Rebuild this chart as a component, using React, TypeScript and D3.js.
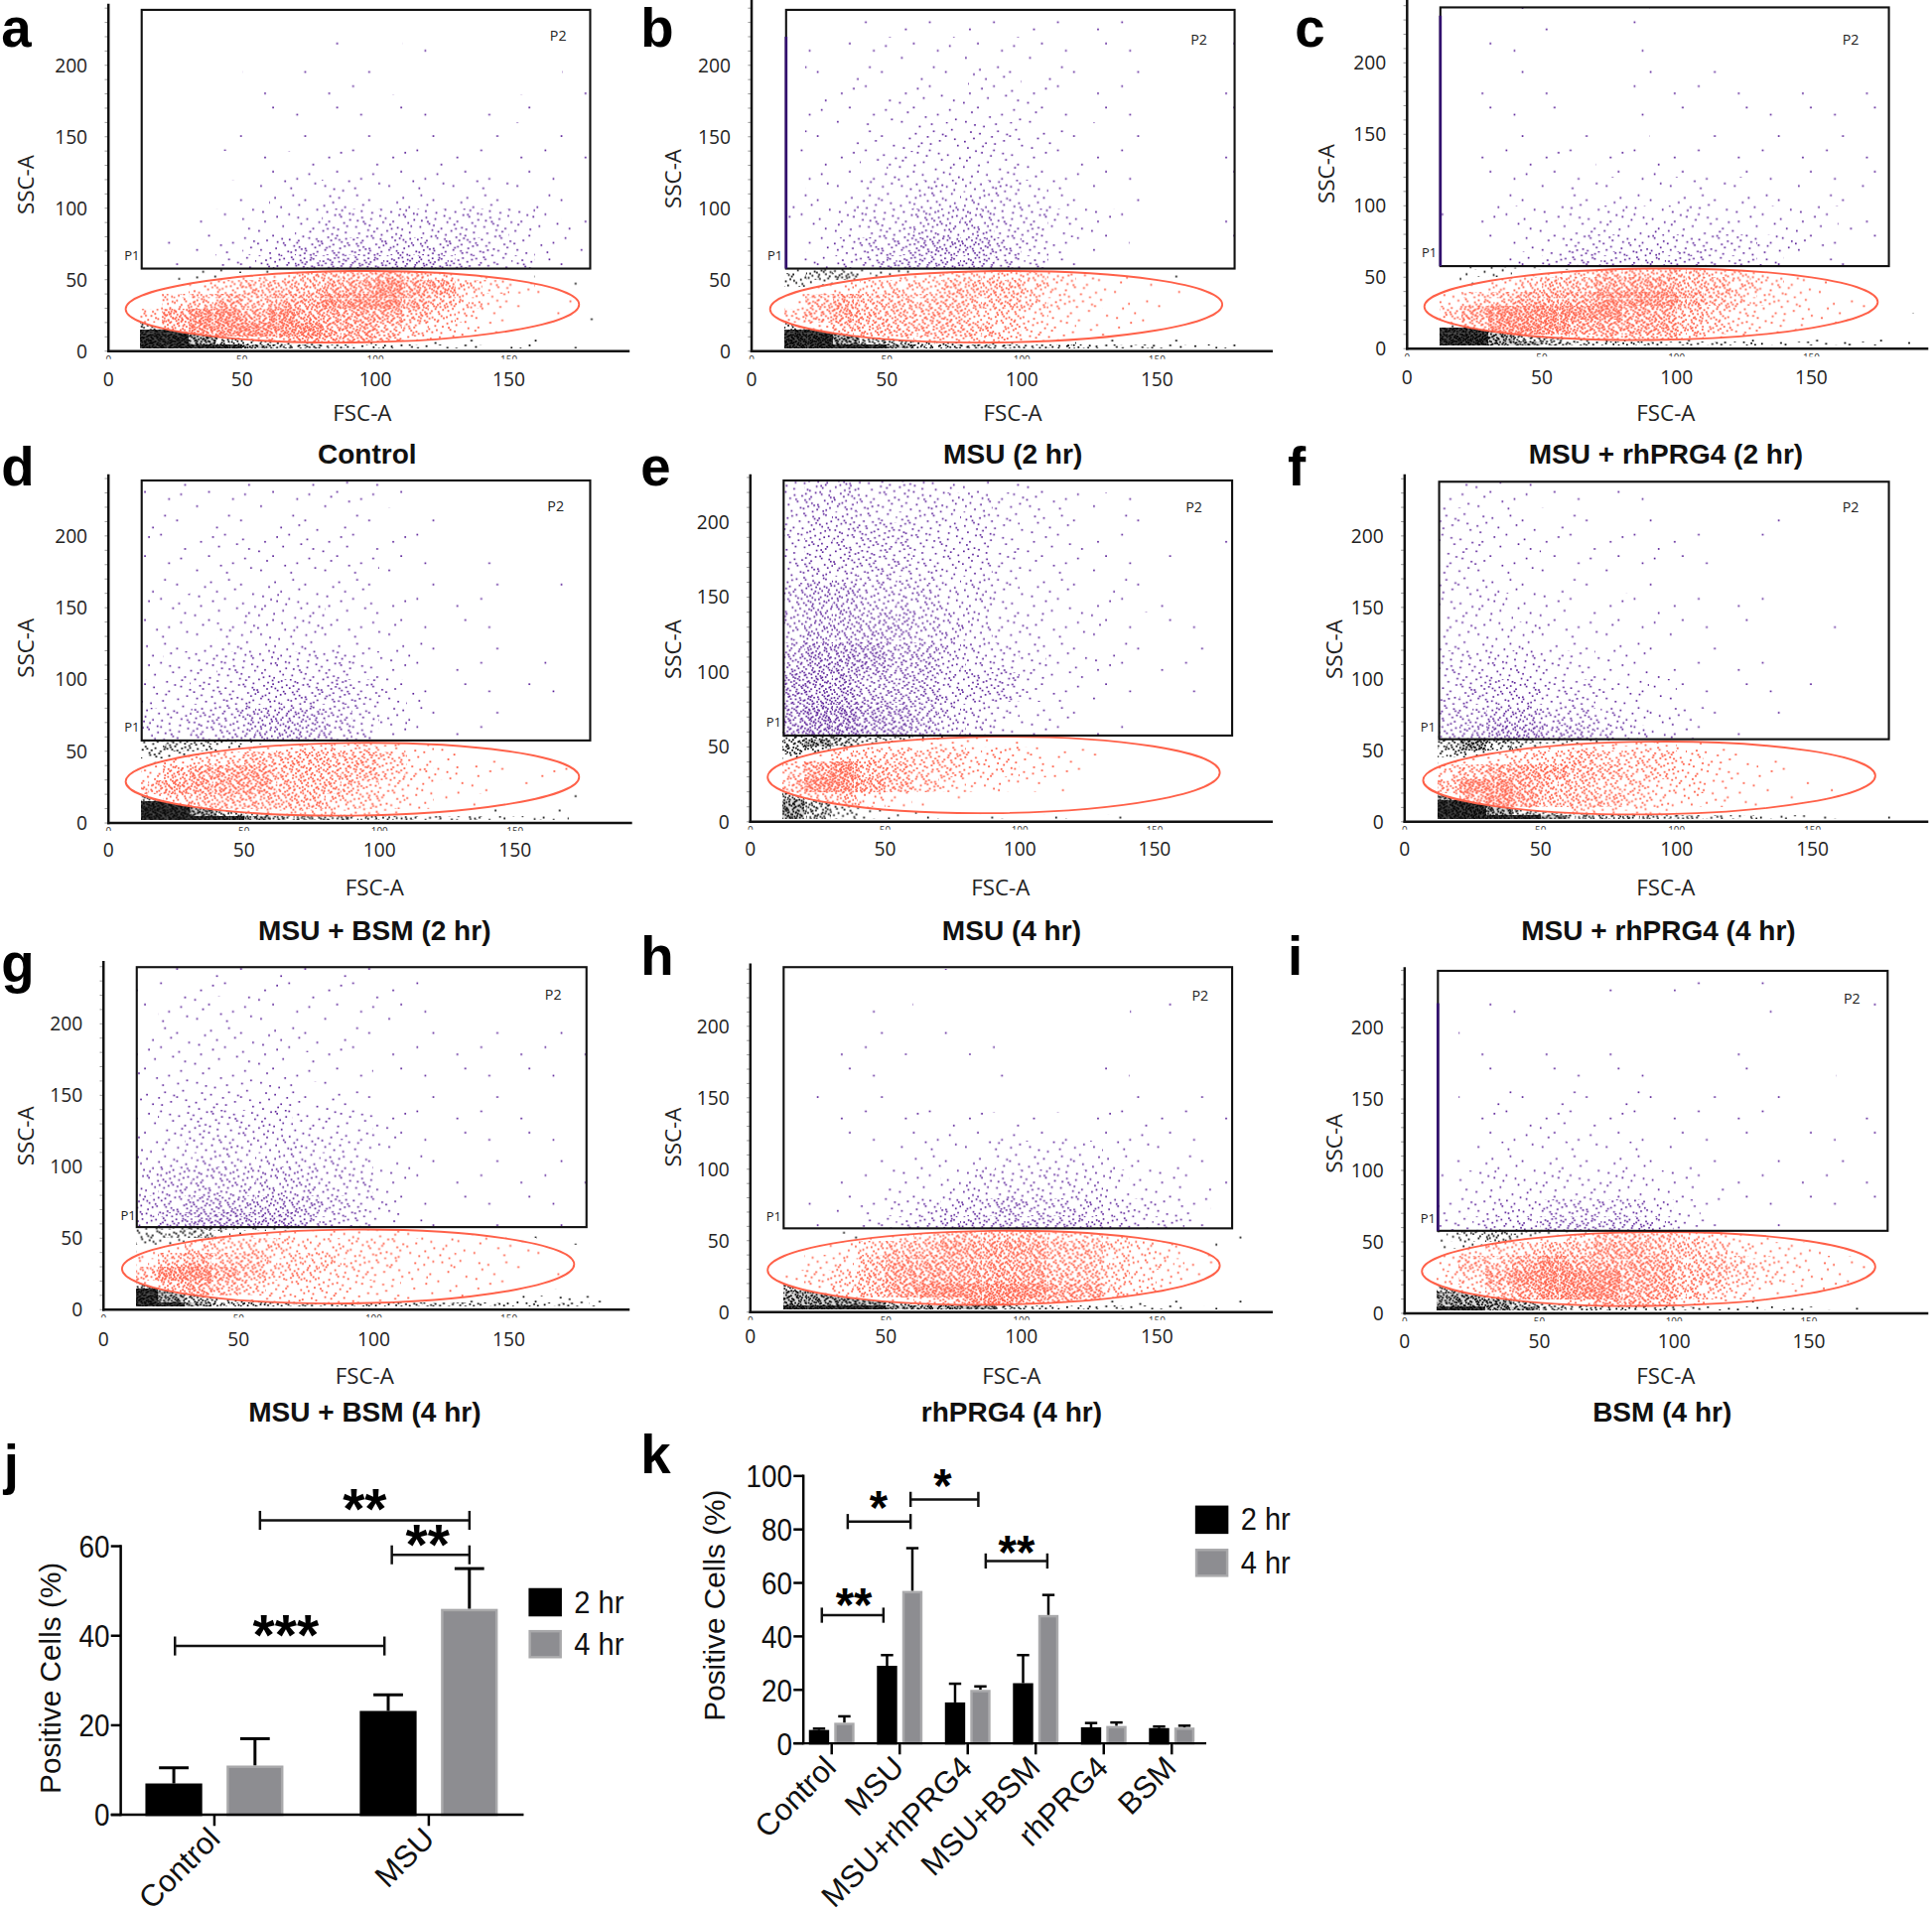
import React from "react";
import * as d3 from "d3";

const seriesNames = ["2 hr", "4 hr"];
const jCategories = ["Control", "MSU"];
const j2hr = [7, 23.2];
const j4hr = [11, 46];
const j2hrTop = [10.5, 26.8];
const j4hrTop = [17, 55];
const jTicks = [0, 20, 40, 60];

const kCategories = ["Control", "MSU", "MSU+rhPRG4", "MSU+BSM", "rhPRG4", "BSM"];
const k2hr = [5, 29, 15.3, 22.5, 6, 5.7];
const k4hr = [7.7, 57, 20, 48, 6.5, 5.9];
const k2hrTop = [5.5, 33, 22.3, 33, 7.6, 6.3];
const k4hrTop = [10.1, 73, 21.3, 55.5, 7.8, 6.6];
const kTicks = [0, 20, 40, 60, 80, 100];

// ---------- Flow-cytometry panels ----------
// The thousands of single events cannot be read one by one, so each population is
// kept as a table of estimated density levels (0-9), read per FSC/SSC cell from the
// picture. A cell is drawn through the scales and shaded with a stipple texture for its
// level: the individual dots are a fill style, not measured events.
const fscEdges = [12, 20, 30, 40, 50, 60, 70, 80, 90, 100, 110, 120, 130, 140, 150, 160, 170, 180, 190];
const purpleEdges = [240, 220, 200, 180, 160, 140, 120, 100, 80, 68, 57];
const redEdges = [60, 50, 40, 30, 20, 10, 0];
const blackEdges = [60, 55, 50, 45, 40, 35, 30, 25, 20, 15, 10, 5, 2];
const xTickValues = [0, 50, 100, 150];
const yTickValues = [0, 50, 100, 150, 200];
const Z = "000000000000000000";

const purpleA = ["000000100000000000","000010010010000000","000010111000000010","000011111121011011","001100111111112111","000011222222111211","000123343333332210","001233455555554321","012345666666654320","012456777777655320"];
const redA = ["000244666765320000","014566677877543210","256767788876532110","578878777765421100","268888877654321000","002456777644211000"];
const blackA = ["013321100000110000","023211000000011010","110000000000000010","000000000000000100","000000000000000010",Z,"000000000000000001","100000000000000011","600000000000000010","998000000000011010","998765422112111110","999987765554433321"];

const purpleB = ["000111111111110000","011222222221110010","022222233221110010","022233333321110010","122334444322110000","122344444322110011","233445555432110011","234556665543210010","235667776532100000","245677776531100000"];
const redB = ["000244555543210000","024555666543211000","367666666543211000","567666655432211000","346666665432210000","000445555432100000"];
const blackB = ["465442200000000000","566431000000001000","540000000000000000","100000000000000000",Z,Z,Z,"100000000000000000","600000000000000100","998000000000100000","998776543221111100","999987776665554432"];

const purpleC = ["000110010000000000","001100011000000000","010100011111000000","011110011101111110","011101110111111110","011221222111111110","012223323333222210","112334444443333211","012345555555443110","012456666655432100"];
const redC = ["000345666655320000","024566777665432110","356777888765432110","578888877654332100","168887777654321000","000245666543110000"];
const blackC = ["244431000000000000","234210000000000001","210000000000000001",Z,Z,Z,Z,"000000000000000001","200000000000000100","998000000000011011","998765321111011110","998876665555444432"];

const purpleD = ["122222232100000000","222222322211000000","222333332210010000","223333333211110110","233344433211100000","333444433321111000","344555554321110100","445566665431111110","556677765421110000","556677765321100000"];
const redD = ["000144555432100000","145566666532110000","467776666543211100","677776665432211000","356666655431100000","000345554310000000"];
const blackD = ["566542000000000000","565420000000000000","540000000000000000","200000000000000000",Z,Z,Z,"100000000000000000","700000000000000110","998000000000000000","998765432111111110","999987776655544321"];

const purpleE = ["566555433311000000","566555554432210000","566665554332110011","566665554332211011","677666554332221000","677776654433211100","788877655433211100","888777666432210100","899887654332100000","899887654321100000"];
const redE = ["000023332100000000","035555544321000000","578665544321000000","688765433210000000","456431100000000000",Z];
const blackE = ["677665421000000000","787543100000000000","760000000000000000","420000000000000000","100000000000000000",Z,Z,"100000000000000000","700000000000000000","875100000000000000","875322000000000000","875332222222211000"];

const purpleF = ["333211111000000000","443322111100100000","443322222110000000","443322211000000000","444332222111100000","444433322111011000","555544332111100000","566655443211110000","667766544321110000","678877654321000000"];
const redF = ["000134444321000000","134556555432100000","567776655432110000","688766554432111000","378766654332110000","000235443211000000"];
const blackF = ["687654310000000000","686532000000000000","650000000000000000","200000000000000000",Z,Z,Z,"200000000000000000","800000000000000000","998000000000000000","998766432111000000","999987776655443221"];

const purpleG = ["122222222110000000","233332222211000000","233333322111111110","333333222111111110","344444332111110000","345555444321111000","445555554321111110","566666655321111110","667777765421111110","678888765421111110"];
const redG = ["000133333322211000","135555444433222100","467665554433322100","688765544332221100","367654443322221000","000134443322100000"];
const blackG = ["567654200000000000","566431000000001100","540000000000000110","200000000000000000",Z,Z,Z,"100000000000000000","700000000000000100","987000000000011221","987665432222223331","998776666666655553"];

const purpleH = ["000000100000000000","000110000000011000","001110110000000000","001100001000100000","011111000100111110","001112222111221111","000123334444332211","011233455555433211","012345667666554311","012456777777655310"];
const redH = ["000245666655432000","013566777766543210","134677777766544220","245677777766543210","135678888877543100","000135688776321000"];
const blackH = ["012211000000000000","011110000000000011","000000000000000010",Z,Z,"000000000000000001","000000000000000010","100000000000000001","700000000000000110","887000000000111000","888876421111221111","999988887655544321"];

const purpleI = ["000000100100100000","001100000000100011","010010100001000000","011011111001000100","012222221111100010","012232221111001010","123333332211111110","234444443321111110","345566665421111100","456677776421100000"];
const redI = ["000235666543210000","245566776654332100","366787777665433210","457888877665432100","146788877654221000","000135776432100000"];
const blackI = ["466543000000000000","456431000000000000","340000000000000000","100000000000000000",Z,Z,Z,"100000000000000000","700000000000000000","887000000000000000","888766432111110000","998876665544443320"];

const W = 1946, H = 1923, VW = 1568, VH = (1923 * 1568) / 1946;
const SANS = "'Liberation Sans', Arial, sans-serif";
const FLOW = "'Open Sans', 'Noto Sans', sans-serif";
const PURPLE = "#561a96", RED = "#ff5a42", BLACK = "#000";

type Panel = {
  id: string; letter: [number, number]; title: string; titleAt: [number, number];
  ox: number; oy: number; x150: number; y200: number; top: number; axisRight: number; axisTop: number;
  gate: [number, number, number]; el: [number, number, number, number];
  ssc: [number, number]; fsc: [number, number]; tickY: number; edgeTo: number | null;
  purple: string[]; red: string[]; black: string[]; p2: [number, number]; p1: [number, number];
};

const panels: Panel[] = [
  { id: "a", letter: [1, 38], title: "Control", titleAt: [298, 376], ox: 88, oy: 285, x150: 413, y200: 53, top: 8, axisRight: 511, axisTop: 3, gate: [115, 479, 218], el: [102, 470, 220, 278], ssc: [21, 150], fsc: [294, 336], tickY: 308, edgeTo: null, purple: purpleA, red: redA, black: blackA, p2: [453, 33], p1: [107, 211] },
  { id: "b", letter: [520, 38], title: "MSU (2 hr)", titleAt: [822, 376], ox: 610, oy: 285, x150: 939, y200: 53, top: 8, axisRight: 1033, axisTop: 0, gate: [638, 1002, 218], el: [625, 992, 220, 278], ssc: [547, 145], fsc: [822, 336], tickY: 308, edgeTo: 220, purple: purpleB, red: redB, black: blackB, p2: [973, 36], p1: [629, 211] },
  { id: "c", letter: [1051, 38], title: "MSU + rhPRG4 (2 hr)", titleAt: [1352, 376], ox: 1142, oy: 283, x150: 1470, y200: 51, top: 6, axisRight: 1565, axisTop: 0, gate: [1169, 1533, 216], el: [1156, 1524, 218, 276], ssc: [1077, 141], fsc: [1352, 336], tickY: 306, edgeTo: 233, purple: purpleC, red: redC, black: blackC, p2: [1502, 36], p1: [1160, 209] },
  { id: "d", letter: [1, 394], title: "MSU + BSM (2 hr)", titleAt: [304, 763], ox: 88, oy: 668, x150: 418, y200: 435, top: 390, axisRight: 513, axisTop: 385, gate: [115, 479, 601], el: [102, 470, 603, 662], ssc: [21, 526], fsc: [304, 721], tickY: 690, edgeTo: null, purple: purpleD, red: redD, black: blackD, p2: [451, 415], p1: [107, 594] },
  { id: "e", letter: [520, 394], title: "MSU (4 hr)", titleAt: [821, 763], ox: 609, oy: 667, x150: 937, y200: 424, top: 390, axisRight: 1033, axisTop: 385, gate: [636, 1000, 597], el: [623, 990, 598, 660], ssc: [547, 527], fsc: [812, 721], tickY: 689, edgeTo: null, purple: purpleE, red: redE, black: blackE, p2: [969, 416], p1: [628, 590] },
  { id: "f", letter: [1045, 394], title: "MSU + rhPRG4 (4 hr)", titleAt: [1346, 763], ox: 1140, oy: 667, x150: 1471, y200: 435, top: 391, axisRight: 1565, axisTop: 385, gate: [1168, 1533, 600], el: [1155, 1522, 602, 661], ssc: [1083, 527], fsc: [1352, 721], tickY: 689, edgeTo: null, purple: purpleF, red: redF, black: blackF, p2: [1502, 416], p1: [1159, 594] },
  { id: "g", letter: [1, 797], title: "MSU + BSM (4 hr)", titleAt: [296, 1154], ox: 84, oy: 1063, x150: 413, y200: 831, top: 785, axisRight: 511, axisTop: 780, gate: [111, 476, 996], el: [99, 466, 998, 1058], ssc: [21, 922], fsc: [296, 1117], tickY: 1087, edgeTo: null, purple: purpleG, red: redG, black: blackG, p2: [449, 811], p1: [104, 990] },
  { id: "h", letter: [520, 791], title: "rhPRG4 (4 hr)", titleAt: [821, 1154], ox: 609, oy: 1065, x150: 939, y200: 833, top: 785, axisRight: 1033, axisTop: 782, gate: [636, 1000, 997], el: [623, 990, 999, 1059], ssc: [547, 923], fsc: [821, 1117], tickY: 1085, edgeTo: null, purple: purpleH, red: redH, black: blackH, p2: [974, 812], p1: [628, 991] },
  { id: "i", letter: [1045, 791], title: "BSM (4 hr)", titleAt: [1349, 1154], ox: 1140, oy: 1066, x150: 1468, y200: 834, top: 788, axisRight: 1565, axisTop: 785, gate: [1167, 1532, 999], el: [1154, 1522, 1000, 1060], ssc: [1083, 928], fsc: [1352, 1117], tickY: 1089, edgeTo: 217, purple: purpleI, red: redI, black: blackI, p2: [1503, 815], p1: [1159, 993] },
];

// Stipple texture (fill only): a Halton sequence gives an even, irregular dot order,
// of which each density level uses the first n dots. No random numbers are involved.
const TILE = 52;
const halton = (i: number, base: number) => {
  let f = 1, r = 0, n = i;
  while (n > 0) { f /= base; r += f * (n % base); n = Math.floor(n / base); }
  return r;
};
const tileDots = d3.range(1, 1201).map((i) => [halton(i, 2) * TILE, halton(i, 3) * TILE]);
const kinds: { key: string; color: string; counts: number[]; size: number; under: number[]; offset: number }[] = [
  { key: "purple", color: PURPLE, counts: [0, 5, 11, 24, 48, 90, 150, 240, 360, 520], size: 1.35, under: [0, 0, 0, 0, 0, 0, 0, 0, 0, 0], offset: 0 },
  { key: "red", color: RED, counts: [0, 10, 24, 55, 110, 210, 350, 550, 820, 1200], size: 1.45, under: [0, 0, 0, 0, 0, 0, 0, 0, 0, 0.2], offset: 17 },
  { key: "black", color: BLACK, counts: [0, 6, 16, 36, 80, 160, 280, 420, 650, 900], size: 1.4, under: [0, 0, 0, 0, 0, 0, 0, 0, 0.15, 0.7], offset: 31 },
];

function Patterns() {
  return (
    <defs>
      {kinds.flatMap((k) =>
        d3.range(1, 10).map((lv) => (
          <pattern key={k.key + lv} id={`${k.key}${lv}`} width={TILE} height={TILE} patternUnits="userSpaceOnUse"
            patternTransform={`translate(${k.offset} ${k.offset * 2})`}>
            {k.under[lv] > 0 && <rect width={TILE} height={TILE} fill={k.color} opacity={k.under[lv]} />}
            {tileDots.slice(0, k.counts[lv]).map((p, i) => (
              <rect key={i} x={p[0]} y={p[1]} width={k.size} height={k.size} fill={k.color} />
            ))}
          </pattern>
        ))
      )}
    </defs>
  );
}

function Cells({ rows, edges, kind, x, y }: { rows: string[]; edges: number[]; kind: string; x: any; y: any }) {
  return (
    <g shapeRendering="crispEdges">
      {rows.flatMap((row, r) =>
        row.split("").map((c, i) => {
          const lv = +c;
          if (!lv) return null;
          const x0 = x(fscEdges[i]), x1 = x(fscEdges[i + 1]);
          const y0 = y(edges[r]), y1 = y(edges[r + 1]);
          return <rect key={`${r}-${i}`} x={x0} y={y0} width={x1 - x0} height={y1 - y0} fill={`url(#${kind}${lv})`} />;
        })
      )}
    </g>
  );
}

function FlowPanel({ p }: { p: Panel }) {
  const x = d3.scaleLinear().domain([0, 150]).range([p.ox, p.x150]);
  const y = d3.scaleLinear().domain([0, 200]).range([p.oy, p.y200]);
  const [gateL, gateR, gateB] = p.gate;
  const elCx = (p.el[0] + p.el[1]) / 2, elCy = (p.el[2] + p.el[3]) / 2;
  const elRx = (p.el[1] - p.el[0]) / 2, elRy = (p.el[3] - p.el[2]) / 2;
  const elT = `rotate(-0.6 ${elCx} ${elCy})`;
  const minor = d3.range(0, 241, 10).filter((v) => y(v) > p.axisTop);
  return (
    <g>
      <defs>
        <clipPath id={`gate${p.id}`}><rect x={gateL} y={p.top} width={gateR - gateL} height={gateB - p.top} /></clipPath>
        <clipPath id={`el${p.id}`}><ellipse cx={elCx} cy={elCy} rx={elRx} ry={elRy} transform={elT} /></clipPath>
        <clipPath id={`low${p.id}`}><rect x={p.ox - 4} y={p.oy + 2} width={p.axisRight - p.ox} height={4.5} /></clipPath>
      </defs>
      <Cells rows={p.black} edges={blackEdges} kind="black" x={x} y={y} />
      <ellipse cx={elCx} cy={elCy} rx={elRx} ry={elRy} transform={elT} fill="#fff" />
      <g clipPath={`url(#el${p.id})`}><Cells rows={p.red} edges={redEdges} kind="red" x={x} y={y} /></g>
      <ellipse cx={elCx} cy={elCy} rx={elRx} ry={elRy} transform={elT} fill="none" stroke="#ff6048" strokeWidth={1.5} />
      <rect x={gateL} y={p.top} width={gateR - gateL} height={gateB - p.top} fill="#fff" />
      <g clipPath={`url(#gate${p.id})`}><Cells rows={p.purple} edges={purpleEdges} kind="purple" x={x} y={y} /></g>
      <rect x={gateL} y={p.top} width={gateR - gateL} height={gateB - p.top} fill="none" stroke="#111" strokeWidth={1.7} />
      {p.edgeTo !== null && <line x1={gateL} x2={gateL} y1={y(p.edgeTo)} y2={gateB} stroke="#32106e" strokeWidth={2.2} />}
      {minor.map((v) => (
        <line key={v} x1={p.ox - 3} x2={p.ox} y1={y(v)} y2={y(v)} stroke="#999" strokeWidth={0.8} />
      ))}
      <line x1={p.ox} x2={p.ox} y1={p.axisTop} y2={p.oy + 1} stroke="#111" strokeWidth={2} />
      <line x1={p.ox - 1} x2={p.axisRight} y1={p.oy} y2={p.oy} stroke="#111" strokeWidth={2} />
      <g clipPath={`url(#low${p.id})`} fontFamily={FLOW} fontSize={8} fill="#333" textAnchor="middle">
        {xTickValues.map((v) => <text key={v} x={x(v)} y={p.oy + 10}>{v}</text>)}
      </g>
      <g fontFamily={FLOW} fontSize={15.5} fill="#222">
        {xTickValues.map((v) => <text key={v} x={x(v)} y={p.tickY + 5.5} textAnchor="middle">{v}</text>)}
        {yTickValues.map((v) => <text key={v} x={p.ox - 17} y={y(v) + 5.5} textAnchor="end">{v}</text>)}
      </g>
      <text x={p.fsc[0]} y={p.fsc[1] + 6} textAnchor="middle" fontFamily={FLOW} fontSize={18} fill="#222">FSC-A</text>
      <text transform={`translate(${p.ssc[0] + 6} ${p.ssc[1]}) rotate(-90)`} textAnchor="middle" fontFamily={FLOW} fontSize={18} fill="#222">SSC-A</text>
      <text x={p.p2[0]} y={p.p2[1]} textAnchor="middle" fontFamily={FLOW} fontSize={11.5} fill="#222">P2</text>
      <text x={p.p1[0]} y={p.p1[1]} textAnchor="middle" fontFamily={FLOW} fontSize={10.5} fill="#222">P1</text>
      <text x={p.titleAt[0]} y={p.titleAt[1]} textAnchor="middle" fontFamily={SANS} fontWeight={700} fontSize={22.6} fill="#111">{p.title}</text>
      <text x={p.letter[0]} y={p.letter[1]} fontFamily={SANS} fontWeight={700} fontSize={44} fill="#000">{p.id}</text>
    </g>
  );
}

type BarCfg = {
  cats: string[]; a: number[]; b: number[]; aTop: number[]; bTop: number[]; ticks: number[]; max: number;
  x0: number; y0: number; yTop: number; xEnd: number; first: number; step: number; half: number; pad: number;
  cap: number; stroke: number; font: number; labelFont: number; label: [number, number]; labelDy: number; labelDx: number;
  legend: [number, number, number]; legendSize: [number, number]; legendFont: number; starFont: number;
  brackets: { x1: number; x2: number; y: number; stars: string; sx: number; sy: number }[]; tickR: number;
};

const jCfg: BarCfg = {
  cats: jCategories, a: j2hr, b: j4hr, aTop: j2hrTop, bTop: j4hrTop, ticks: jTicks, max: 60,
  x0: 98, y0: 1473, yTop: 1255, xEnd: 425, first: 174, step: 174, half: 56, pad: 0.3, cap: 24, stroke: 2.4,
  font: 25.5, labelFont: 24, label: [31, 1362], labelDy: 9, labelDx: 6, legend: [429, 1289, 1323], legendSize: [27, 23], legendFont: 25, starFont: 46,
  brackets: [
    { x1: 211, x2: 381, y: 1234, stars: "**", sx: 296, sy: 1218 },
    { x1: 318, x2: 381, y: 1262, stars: "**", sx: 347, sy: 1247 },
    { x1: 142, x2: 312, y: 1336, stars: "***", sx: 232, sy: 1320 },
  ], tickR: 10,
};
const kCfg: BarCfg = {
  cats: kCategories, a: k2hr, b: k4hr, aTop: k2hrTop, bTop: k4hrTop, ticks: kTicks, max: 100,
  x0: 652, y0: 1415, yTop: 1198, xEnd: 979, first: 675, step: 55.2, half: 18.5, pad: 0.2, cap: 10, stroke: 2,
  font: 25.5, labelFont: 24, label: [570, 1303], labelDy: 9, labelDx: 5, legend: [970, 1222, 1257], legendSize: [27, 23], legendFont: 25, starFont: 38,
  brackets: [
    { x1: 667, x2: 717, y: 1311, stars: "**", sx: 693, sy: 1297 },
    { x1: 688, x2: 739, y: 1235, stars: "*", sx: 713, sy: 1218 },
    { x1: 739, x2: 794, y: 1217, stars: "*", sx: 765, sy: 1200 },
    { x1: 800, x2: 850, y: 1267, stars: "**", sx: 825, sy: 1254 },
  ], tickR: 8,
};

function BarPanel({ c, letter, name }: { c: BarCfg; letter: [number, number]; name: string }) {
  const y = d3.scaleLinear().domain([0, c.max]).range([c.y0, c.yTop]);
  const centre = d3.scaleOrdinal<string, number>().domain(c.cats).range(c.cats.map((_, i) => c.first + i * c.step));
  const inner = d3.scaleBand().domain(seriesNames).range([-c.half, c.half]).paddingInner(c.pad);
  const bw = inner.bandwidth();
  const rows = [
    { s: seriesNames[0], v: c.a, t: c.aTop, fill: "#000", stroke: "#000" },
    { s: seriesNames[1], v: c.b, t: c.bTop, fill: "#8d8d91", stroke: "#a9a9ab" },
  ];
  return (
    <g>
      {rows.flatMap((r) =>
        c.cats.map((cat, i) => {
          const bx = centre(cat) + (inner(r.s) as number);
          const mid = bx + bw / 2;
          return (
            <g key={r.s + cat}>
              <line x1={mid} x2={mid} y1={y(r.v[i])} y2={y(r.t[i])} stroke="#000" strokeWidth={c.stroke} />
              <line x1={mid - c.cap / 2} x2={mid + c.cap / 2} y1={y(r.t[i])} y2={y(r.t[i])} stroke="#000" strokeWidth={c.stroke} />
              <rect x={bx + 1} y={y(r.v[i]) + 1} width={bw - 2} height={c.y0 - y(r.v[i]) - 1} fill={r.fill} stroke={r.stroke} strokeWidth={2} />
            </g>
          );
        })
      )}
      <line x1={c.x0} x2={c.x0} y1={c.yTop - 1} y2={c.y0 + 1} stroke="#000" strokeWidth={2} />
      <line x1={c.x0 - 8} x2={c.xEnd} y1={c.y0} y2={c.y0} stroke="#000" strokeWidth={2} />
      {c.ticks.map((t) => (
        <g key={t}>
          <line x1={c.x0 - 8} x2={c.x0} y1={y(t)} y2={y(t)} stroke="#000" strokeWidth={2} />
          <text transform={`translate(${c.x0 - 9} ${y(t) + c.font * 0.36}) scale(0.88 1)`} textAnchor="end" fontFamily={SANS} fontSize={c.font} fill="#111">{t}</text>
        </g>
      ))}
      {c.cats.map((cat) => (
        <g key={cat}>
          <line x1={centre(cat)} x2={centre(cat)} y1={c.y0} y2={c.y0 + 9} stroke="#000" strokeWidth={2} />
          <text transform={`translate(${centre(cat) + c.labelDx} ${c.y0 + 12 + c.labelDy}) rotate(-45)`} textAnchor="end" fontFamily={SANS} fontSize={25} fill="#111">{cat}</text>
        </g>
      ))}
      <text transform={`translate(${c.label[0] + 18} ${c.label[1]}) rotate(-90)`} textAnchor="middle" fontFamily={SANS} fontSize={c.labelFont} fill="#111">Positive Cells (%)</text>
      {c.brackets.map((b, i) => (
        <g key={i} stroke="#111" strokeWidth={2}>
          <line x1={b.x1} x2={b.x2} y1={b.y} y2={b.y} />
          <line x1={b.x1} x2={b.x1} y1={b.y - c.tickR / 1.3} y2={b.y + c.tickR / 1.3} />
          <line x1={b.x2} x2={b.x2} y1={b.y - c.tickR / 1.3} y2={b.y + c.tickR / 1.3} />
          <text x={b.sx} y={b.sy + c.starFont * 0.5} textAnchor="middle" stroke="none" fontFamily={SANS} fontWeight={700} fontSize={c.starFont} fill="#000">{b.stars}</text>
        </g>
      ))}
      {rows.map((r, i) => (
        <g key={r.s}>
          <rect x={c.legend[0] + 1} y={c.legend[i + 1] + 1} width={c.legendSize[0] - 2} height={c.legendSize[1] - 2} fill={r.fill} stroke={r.stroke} strokeWidth={2} />
          <text transform={`translate(${c.legend[0] + c.legendSize[0] + 10} ${c.legend[i + 1] + 20}) scale(0.9 1)`} fontFamily={SANS} fontSize={c.legendFont + 1} fill="#111">{r.s}</text>
        </g>
      ))}
      <text x={letter[0]} y={letter[1]} fontFamily={SANS} fontWeight={700} fontSize={44} fill="#000">{name}</text>
    </g>
  );
}

export default function App() {
  return (
    <svg width={W} height={H} viewBox={`0 0 ${VW} ${VH}`} style={{ position: "absolute", left: 0, top: 0, background: "#fff" }}>
      <Patterns />
      {panels.map((p) => <FlowPanel key={p.id} p={p} />)}
      <BarPanel c={jCfg} letter={[3, 1204]} name="j" />
      <BarPanel c={kCfg} letter={[520, 1196]} name="k" />
    </svg>
  );
}
